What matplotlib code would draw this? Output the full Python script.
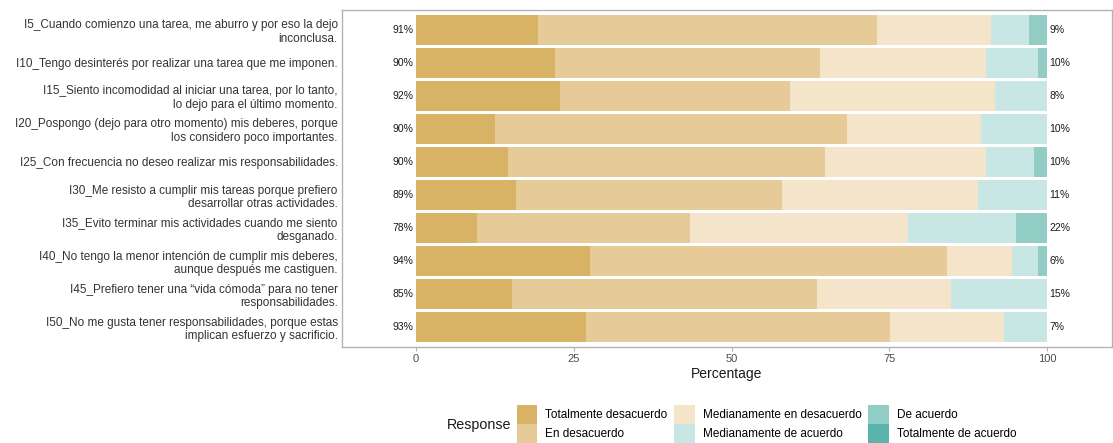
import matplotlib
matplotlib.use("Agg")
import matplotlib.pyplot as plt
from matplotlib.patches import Patch
import numpy as np

plt.rcParams['font.family'] = ['Liberation Sans', 'DejaVu Sans']

items = [
    "I5_Cuando comienzo una tarea, me aburro y por eso la dejo\ninconclusa.",
    "I10_Tengo desinterés por realizar una tarea que me imponen.",
    "I15_Siento incomodidad al iniciar una tarea, por lo tanto,\nlo dejo para el último momento.",
    "I20_Pospongo (dejo para otro momento) mis deberes, porque\nlos considero poco importantes.",
    "I25_Con frecuencia no deseo realizar mis responsabilidades.",
    "I30_Me resisto a cumplir mis tareas porque prefiero\ndesarrollar otras actividades.",
    "I35_Evito terminar mis actividades cuando me siento\ndesganado.",
    "I40_No tengo la menor intención de cumplir mis deberes,\naunque después me castiguen.",
    "I45_Prefiero tener una “vida cómoda” para no tener\nresponsabilidades.",
    "I50_No me gusta tener responsabilidades, porque estas\nimplican esfuerzo y sacrificio.",
]

responses = ["Totalmente desacuerdo", "En desacuerdo", "Medianamente en desacuerdo",
             "Medianamente de acuerdo", "De acuerdo", "Totalmente de acuerdo"]

totalmente_desacuerdo = [19.3, 22.0, 22.8, 12.5, 14.6, 15.9, 9.7, 27.5, 15.2, 26.9]
en_desacuerdo         = [53.7, 42.1, 36.5, 55.8, 50.2, 42.1, 33.8, 56.6, 48.3, 48.2]
med_desacuerdo        = [18.1, 26.2, 32.4, 21.3, 25.5, 31.0, 34.5, 10.3, 21.3, 18.1]
med_acuerdo           = [6.1, 8.3, 8.3, 10.4, 7.6, 11.0, 17.1, 4.2, 15.2, 6.8]
de_acuerdo            = [2.8, 1.4, 0.0, 0.0, 2.1, 0.0, 4.9, 1.4, 0.0, 0.0]
totalmente_acuerdo    = [0.0, 0.0, 0.0, 0.0, 0.0, 0.0, 0.0, 0.0, 0.0, 0.0]

colors = ["#D8B365", "#E6CB98", "#F3E4CA", "#C8E6E3", "#91CDC5", "#5AB4AC"]

series = [totalmente_desacuerdo, en_desacuerdo, med_desacuerdo,
          med_acuerdo, de_acuerdo, totalmente_acuerdo]

fig = plt.figure(figsize=(11.13, 4.43), dpi=100)
ax = fig.add_axes([342/1113, 1-347/443, (1112-342)/1113, (347-10)/443])

y = np.arange(len(items))
left = np.zeros(len(items))
for vals, col, name in zip(series, colors, responses):
    v = np.array(vals)
    ax.barh(y, v, left=left, height=0.9, color=col, edgecolor='none', label=name)
    left += v

low = np.array(totalmente_desacuerdo) + np.array(en_desacuerdo) + np.array(med_desacuerdo)
high = np.array(med_acuerdo) + np.array(de_acuerdo) + np.array(totalmente_acuerdo)
for i in range(len(items)):
    ax.text(-0.4, y[i], f"{int(round(low[i]))}%", ha='right', va='center',
            fontsize=7.5, color='#1a1a1a')
    ax.text(100.4, y[i], f"{int(round(high[i]))}%", ha='left', va='center',
            fontsize=7.5, color='#1a1a1a')

ax.set_xlim(-11.73, 110.3)
ax.set_ylim(len(items) - 1 + 0.606, -0.606)
ax.set_yticks(y)
ax.set_yticklabels(items, fontsize=8.5, color='#333333', linespacing=1.22)
ax.tick_params(axis='y', length=0, pad=3)
ax.set_xticks([0, 25, 50, 75, 100])
ax.set_xticklabels(["0", "25", "50", "75", "100"])
ax.tick_params(axis='x', length=3, color='#b3b3b3', labelsize=8, labelcolor='#4d4d4d', pad=2)
ax.set_xlabel("Percentage", fontsize=10, color='#1a1a1a', labelpad=2)
for s in ax.spines.values():
    s.set_color('#b3b3b3')
    s.set_linewidth(1.0)

handles = [Patch(facecolor=c, edgecolor='none') for c in colors]
fig.legend(handles, responses, ncol=3, loc='lower left',
           bbox_to_anchor=(517/1113, 0.0), frameon=False, fontsize=8.5,
           handlelength=1.7, handleheight=2.13, labelspacing=0.0,
           handletextpad=0.68, columnspacing=0.6, borderpad=0, borderaxespad=0)
fig.text(447/1113, 1-425/443, "Response", fontsize=10.3, ha='left', va='center', color='#1a1a1a')

fig.savefig("out.png", dpi=100)
